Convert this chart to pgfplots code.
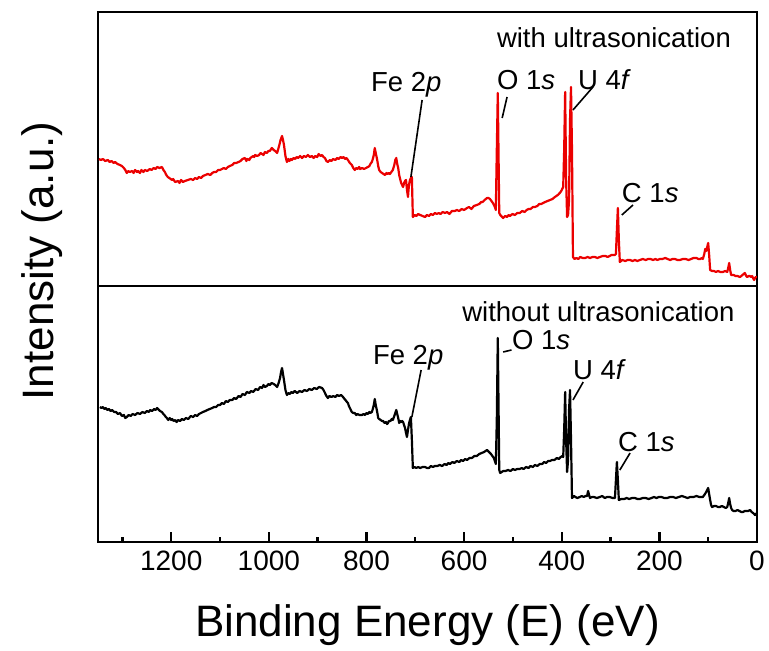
\documentclass[border=0pt]{standalone}
\usepackage{fontspec}
\setmainfont{Liberation Sans}
\usepackage{pgfplots}
\pgfplotsset{compat=1.18}
\definecolor{specred}{RGB}{235,0,0}
\newcommand{\annfont}{\fontsize{27.5}{31}\selectfont}
\begin{document}
\begin{tikzpicture}
\pgfplotsset{
  common/.style={
    scale only axis,
    width=659pt,
    xmin=0, xmax=1350,
    x dir=reverse,
    ytick=\empty,
    axis line style={line width=2.8pt, black},
    every axis plot/.append style={line width=2.2pt, line join=round},
    clip=true,
  },
}
% ---------------- top panel: with ultrasonication ----------------
\begin{axis}[common,
  at={(98pt,365pt)}, anchor=south west,
  height=274pt, ymin=0, ymax=274,
  xtick=\empty,
]
\addplot[specred] coordinates {
(1348,127)(1344,126)(1340,127)(1335,125)(1330,126)(1326,124)(1322,125)(1318,123)(1315,124)(1310,122)(1305,121)(1301,120)(1297,118)(1294,116)(1291,113)(1288,115)(1285,114)(1280,115)(1277,113)(1274,116)(1270,114)(1268,115)(1264,113)(1261,116)
(1257,114)(1254,116)(1249,115)(1244,117)(1240,116)(1236,118)(1232,117)(1229,119)(1224,118)(1219,119)(1216,116)(1213,114)(1210,111)(1207,109)(1204,108)(1201,107)(1198,106)(1196,107)(1192,104)(1186,105)(1183,103)(1180,106)(1176,104)(1172,105)(1166,106)(1160,107)(1155,106)(1151,108)
(1147,107)(1143,109)(1139,108)(1135,110)(1130,111)(1125,112)(1120,111)(1116,113)(1112,114)(1108,114)(1104,116)(1100,116)(1096,117)(1092,118)(1088,117)(1084,119)(1080,120)(1075,121)(1071,123)(1067,123)(1062,124)(1058,125)(1054,127)(1049,128)(1046,125)(1044,127)(1040,126)(1038,128)
(1035,129)(1032,130)(1030,129)(1028,131)(1024,130)(1020,131)(1017,133)(1014,132)(1011,131)(1008,134)(1004,133)(1001,135)(998,135)(994,138)(990,136)(987,135)(983,133)(979,140)(976,146)(973,150)(971,146)(969,141)
(966,130)(963,124)(960,127)(958,125)(955,127)(953,126)(949,128)(946,127)(943,129)(940,128)(936,130)(932,128)(928,130)(924,129)(920,131)(916,129)(912,130)(908,128)(905,130)(901,129)(898,132)(894,130)(891,131)(888,129)(885,128)(882,125)(879,124)(875,126)(872,125)(868,127)(864,126)
(860,128)(857,127)(853,129)(850,128)(847,129)(844,127)(841,128)(838,126)(834,123)(830,121)(827,118)(824,116)(821,118)(818,117)(815,119)(813,117)(809,118)(805,117)(801,118)(797,119)(794,120)(792,122)(789,124)(787,127)(785,131)(783,138)(781,133)
(778,126)(776,120)(774,116)(771,114)(768,113)(765,112)(762,111)(759,113)(757,112)(754,113)(752,112)(749,114)(746,116)(743,121)(741,126)(739,128)(737,122)(735,118)(733,111)(731,107)(729,103)(727,101)(725,99)(723,103)(721,105)(719,106)
(717,96)(715,89)(713,101)(711,106)(709,108)(707,109)(705,69)(701,71)(698,70)(694,72)(690,71)(685,70)(680,69)(676,71)(672,70)(668,72)(664,71)(660,73)(656,72)(652,73)(648,72)(644,74)(639,73)(635,74)(630,72)(625,75)(619,75)(615,76)(610,75)
(605,77)(600,76)(594,78)(590,79)(585,77)(580,80)(574,81)(569,82)(565,84)(562,84)(558,86)(553,88)(550,88)(547,87)(544,85)(541,83)(539,81)(537,79)(535,76)(533,136)(531,193)(528,73)(526,71)(524,70)(522,69)(520,68)(516,70)(512,69)
(509,71)(506,70)(501,72)(496,71)(491,73)(486,73)(481,75)(476,74)(472,76)(468,77)(464,77)(459,79)(455,79)(450,80)(446,82)(442,82)(438,83)(434,84)(429,85)(424,86)(419,87)(414,89)(411,90)(408,91)(406,92)(404,93)(401,95)(399,97)(397,99)(395,136)
(393,194)(391,106)(389,69)(387,71)(385,86)(383,166)(381,199)(379,136)(377,29)(374,27)(370,28)(366,27)(362,29)(357,28)(352,28)(347,29)(342,28)(337,29)(332,29)(327,28)(322,29)(316,30)(310,30)(306,29)(302,30)(298,31)
(295,31)(291,31)(289,32)(287,56)(285,78)(283,46)(281,24)(276,26)(270,25)(265,26)(260,26)(255,25)(250,26)(245,25)(240,26)(234,27)(228,26)(223,27)(218,27)(213,26)(208,27)(204,26)(199,27)(194,27)(188,28)(183,27)(178,26)(173,27)(168,27)(163,26)(158,26)
(152,27)(146,27)(140,26)(135,27)(130,28)(124,28)(120,27)(116,27)(113,28)(111,27)(108,32)(106,37)(104,35)(102,39)(100,43)(98,31)(96,16)(92,15)(88,15)(84,14)(80,15)(75,14)(70,14)(65,15)(61,14)(59,18)(57,23)(55,16)(53,11)(48,11)(44,10)
(40,10)(35,9)(32,10)(30,11)(27,12)(25,13)(22,10)(20,9)(17,10)(15,10)(12,9)(10,10)(8,8)(6,6)(4,8)(2,9)(0,9)
};
\node[anchor=base west, inner sep=0pt, font=\annfont] at (axis cs:533,238) {with ultrasonication};
\node[anchor=base west, inner sep=0pt, font=\annfont] at (axis cs:791,194) {Fe 2\textit{p}};
\node[anchor=base west, inner sep=0pt, font=\annfont] at (axis cs:533,196) {O 1\textit{s}};
\node[anchor=base west, inner sep=0pt, font=\annfont] at (axis cs:367,196) {U 4\textit{f}};
\node[anchor=base west, inner sep=0pt, font=\annfont] at (axis cs:277,83) {C 1\textit{s}};
\draw[line width=1.6pt] (axis cs:686,186) -- (axis cs:709,109);
\draw[line width=1.6pt] (axis cs:512,189) -- (axis cs:522,168);
\draw[line width=1.6pt] (axis cs:336,199) -- (axis cs:377,176);
\draw[line width=1.6pt] (axis cs:254,81) -- (axis cs:277,71);
\end{axis}
% ---------------- bottom panel: without ultrasonication ----------------
\begin{axis}[common,
  at={(98pt,109pt)}, anchor=south west,
  height=256pt, ymin=0, ymax=256,
  xtick={0,200,400,600,800,1000,1200},
  minor xtick={100,300,500,700,900,1100,1300},
  xtick pos=bottom,
  xtick align=inside,
  major tick length=10pt,
  minor tick length=5pt,
  xtick style={line width=2.4pt, black},
  minor tick style={line width=2.4pt, black},
  /pgf/number format/1000 sep={},
  /pgf/number format/assume math mode=true,
  xticklabel style={font=\fontsize{28}{32}\selectfont, yshift=-5pt},
]
\addplot[black] coordinates {
(1346,135)(1343,134)(1340,135)(1337,133)(1334,134)(1331,132)(1328,133)(1324,131)(1321,132)(1317,130)(1313,130)(1309,128)(1305,129)(1301,126)(1297,127)(1294,124)(1291,125)(1287,127)(1283,126)(1279,128)(1274,127)(1269,129)(1264,128)(1259,130)(1254,129)(1250,131)(1246,130)
(1243,132)(1239,131)(1235,133)(1232,132)(1229,134)(1227,133)(1223,131)(1219,130)(1216,128)(1214,127)(1211,125)(1209,124)(1206,122)(1203,124)(1200,122)(1198,123)(1195,121)(1192,122)(1189,120)(1186,122)(1182,121)(1178,123)(1174,122)(1170,124)(1165,123)(1160,126)(1155,125)(1151,127)
(1147,126)(1143,128)(1139,129)(1135,130)(1130,131)(1126,132)(1121,133)(1116,134)(1112,135)(1108,135)(1104,137)(1100,137)(1096,139)(1092,138)(1088,141)(1084,140)(1080,142)(1075,142)(1071,144)(1067,143)(1062,146)(1058,145)(1054,148)(1049,147)(1045,150)(1040,149)(1036,151)(1032,150)
(1027,153)(1022,152)(1018,155)(1014,154)(1011,157)(1008,155)(1004,156)(1001,158)(998,157)(994,159)(990,158)(987,157)(983,155)(980,159)(977,164)(975,170)(973,174)(971,168)(969,162)(966,152)(963,147)(960,149)(957,148)
(954,150)(951,149)(947,151)(942,149)(937,151)(932,150)(927,152)(922,151)(917,153)(912,152)(907,154)(902,153)(897,155)(891,154)(888,152)(885,149)(882,146)(879,144)(876,146)(872,145)(868,146)(864,145)(860,147)(856,146)(852,147)(848,145)(845,143)(843,142)(840,140)(838,139)
(836,136)(834,134)(832,132)(830,130)(827,129)(824,129)(821,127)(819,128)(814,127)(809,127)(806,128)(803,127)(800,129)(797,128)(794,130)(792,129)(789,130)(787,133)(785,137)(783,143)(781,137)(778,130)(776,124)(774,123)(771,122)(768,121)(766,121)
(763,119)(760,120)(758,118)(756,119)(754,121)(751,121)(748,123)(746,122)(743,126)(741,129)(739,132)(737,128)(735,124)(733,119)(731,121)(729,120)(727,121)(725,120)(723,117)(721,114)(719,109)(717,105)(715,112)(713,118)(711,122)(709,125)
(707,102)(705,74)(702,75)(698,74)(694,75)(690,74)(685,75)(680,75)(676,74)(672,74)(668,76)(664,75)(660,76)(655,76)(650,77)(645,76)(640,78)(636,77)(632,79)(629,78)(624,80)(620,79)(615,81)(610,80)(606,82)(602,81)(598,83)(594,82)(589,84)(584,84)(579,86)(574,86)
(569,88)(564,89)(559,90)(553,92)(551,91)(549,90)(547,89)(545,88)(542,86)(539,84)(537,81)(535,78)(533,122)(531,204)(528,72)(526,69)(523,70)(520,71)(515,71)(510,72)(505,71)(500,73)(496,72)(491,73)(486,73)(482,74)(478,73)(473,75)(468,74)(464,76)(459,75)
(455,77)(450,76)(445,78)(440,78)(436,80)(432,79)(428,81)(424,81)(420,82)(415,82)(410,84)(406,83)(402,85)(399,86)(397,85)(395,112)(393,150)(391,102)(389,70)(387,82)(385,132)(383,152)(381,102)(379,44)
(375,46)(372,45)(368,44)(363,45)(359,46)(355,45)(351,46)(348,46)(346,51)(344,47)(342,44)(338,45)(334,45)(328,44)(322,45)(317,46)(312,44)(307,45)(302,45)(296,44)(291,44)(289,62)(287,80)(285,62)(283,42)(278,43)(272,43)(267,44)(262,43)
(256,44)(250,44)(245,43)(240,43)(234,44)(228,44)(222,43)(216,44)(211,45)(206,44)(201,45)(196,45)(190,44)(184,44)(178,45)(172,45)(166,44)(160,45)(154,46)(148,45)(142,44)(137,45)(130,45)(124,46)(118,45)(111,45)(108,47)(104,50)(102,52)(100,54)(98,48)(96,42)(94,37)(92,35)
(88,36)(84,36)(80,35)(76,35)(72,36)(68,35)(64,34)(61,35)(59,39)(57,44)(55,38)(53,34)(51,32)(48,31)(44,31)(40,32)(36,31)(32,30)(29,30)(25,31)(22,31)(18,31)(14,32)(11,30)(8,29)(6,28)(4,27)(2,28)(0,29)
};
\node[anchor=base west, inner sep=0pt, font=\annfont] at (axis cs:604,220) {without ultrasonication};
\node[anchor=base west, inner sep=0pt, font=\annfont] at (axis cs:787,177) {Fe 2\textit{p}};
\node[anchor=base west, inner sep=0pt, font=\annfont] at (axis cs:502,192) {O 1\textit{s}};
\node[anchor=base west, inner sep=0pt, font=\annfont] at (axis cs:377,162) {U 4\textit{f}};
\node[anchor=base west, inner sep=0pt, font=\annfont] at (axis cs:285,90) {C 1\textit{s}};
\draw[line width=1.6pt] (axis cs:688,172) -- (axis cs:707,125);
\draw[line width=1.6pt] (axis cs:520,190) -- (axis cs:503,192);
\draw[line width=1.6pt] (axis cs:356,160) -- (axis cs:377,142);
\draw[line width=1.6pt] (axis cs:260,89) -- (axis cs:281,72);
\end{axis}
% axis titles
\node[rotate=90, inner sep=0pt, font=\fontsize{44}{50}\selectfont] at (42pt,390pt) {Intensity (a.u.)};
\node[anchor=base, inner sep=0pt, font=\fontsize{44}{50}\selectfont] at (427.5pt,14pt) {Binding Energy (E) (eV)};
\pgfresetboundingbox
\useasboundingbox (0,0) rectangle (769pt,651pt);
\end{tikzpicture}
\end{document}
